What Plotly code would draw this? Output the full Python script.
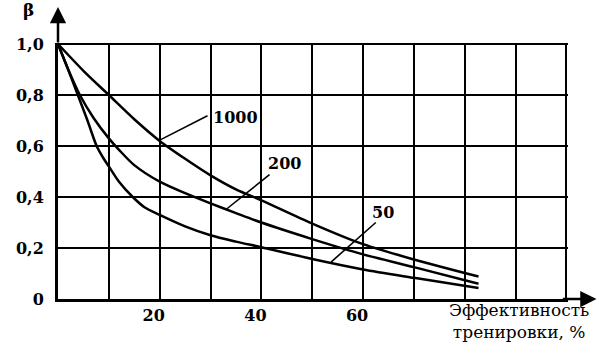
import plotly.graph_objects as go

# ---- data ----
x_1000 = [0, 5, 10, 15, 20, 25, 30, 35, 40, 50, 60, 70, 82.7]
y_1000 = [1.0, 0.895, 0.80, 0.705, 0.62, 0.55, 0.485, 0.43, 0.387, 0.296, 0.215, 0.155, 0.088]

x_200 = [0, 2, 4.3, 7, 10, 12, 15, 20, 25, 30, 35, 40, 50, 60, 70, 82.7]
y_200 = [1.0, 0.9, 0.80, 0.71, 0.63, 0.585, 0.525, 0.46, 0.415, 0.375, 0.337, 0.30, 0.235, 0.175, 0.125, 0.06]

x_50 = [0, 2, 3.9, 5.8, 7.6, 9, 10, 12, 14.7, 17, 20, 25, 30, 35, 40, 50, 60, 70, 82.7]
y_50 = [1.0, 0.9, 0.80, 0.70, 0.60, 0.55, 0.52, 0.46, 0.40, 0.36, 0.33, 0.285, 0.25, 0.225, 0.203, 0.157, 0.116, 0.083, 0.043]

series = [("1000", x_1000, y_1000), ("200", x_200, y_200), ("50", x_50, y_50)]

# curve labels: text position and leader line (from -> to)
label_text = ["1000", "200", "50"]
label_pos = [(34.9, 0.711), (44.5, 0.531), (63.9, 0.34)]
leader_from = [(29.4, 0.719), (41.6, 0.488), (62.5, 0.30)]
leader_to = [(20.2, 0.625), (33.1, 0.352), (53.7, 0.145)]

x_grid = [10, 20, 30, 40, 50, 60, 70, 80, 90, 100]
x_ticktext = ["", "20", "", "40", "", "60", "", "", "", ""]
y_grid = [0, 0.2, 0.4, 0.6, 0.8, 1.0]
y_ticktext = ["0", "0,2", "0,4", "0,6", "0,8", "1,0"]

x_title = ["Эффективность", "тренировки, %"]
y_title = "β"

FONT = "DejaVu Serif"

fig = go.Figure()
for name, xs, ys in series:
    fig.add_trace(go.Scatter(x=xs, y=ys, mode="lines", name=name,
                             line=dict(color="black", width=2.5, shape="spline", smoothing=0.8),
                             showlegend=False, hoverinfo="skip"))

for t, (tx, ty), (fx, fy), (ex, ey) in zip(label_text, label_pos, leader_from, leader_to):
    fig.add_shape(type="line", x0=fx, y0=fy, x1=ex, y1=ey, xref="x", yref="y",
                  line=dict(color="black", width=1.6))
    fig.add_annotation(x=tx, y=ty, text=t, showarrow=False, xref="x", yref="y",
                       font=dict(family=FONT, size=16, color="black", weight="bold"))

# axis arrows
fig.add_annotation(x=105.9, y=0, ax=99, ay=0, xref="x", yref="y", axref="x", ayref="y",
                   text="", showarrow=True, arrowhead=2, arrowsize=1.3, arrowwidth=2.5,
                   arrowcolor="black")
fig.add_annotation(x=0, y=1.145, ax=0, ay=1.0, xref="x", yref="y", axref="x", ayref="y",
                   text="", showarrow=True, arrowhead=2, arrowsize=1.3, arrowwidth=2.5,
                   arrowcolor="black")

# axis titles (paper coordinates)
fig.add_annotation(x=-0.057, y=1.129, text=y_title, showarrow=False, xref="paper", yref="paper",
                   xanchor="center", yanchor="middle",
                   font=dict(family=FONT, size=17, color="black", weight="bold"))
fig.add_annotation(x=0.904, y=-0.086, text="<br>".join(x_title), showarrow=False,
                   xref="paper", yref="paper", xanchor="center", yanchor="middle", align="center",
                   font=dict(family=FONT, size=17, color="black"))

fig.update_xaxes(range=[0, 100.3], tickmode="array", tickvals=x_grid, ticktext=x_ticktext,
                 showgrid=True, gridcolor="black", gridwidth=2, zeroline=False,
                 showline=True, linecolor="black", linewidth=3, ticks="",
                 ticklabelshift=-6, ticklabelstandoff=0,
                 tickfont=dict(family=FONT, size=16, color="black", weight="bold"))
fig.update_yaxes(range=[0, 1.004], tickmode="array", tickvals=y_grid, ticktext=y_ticktext,
                 showgrid=True, gridcolor="black", gridwidth=2, zeroline=False,
                 showline=True, linecolor="black", linewidth=3, ticks="",
                 ticklabelstandoff=8,
                 tickfont=dict(family=FONT, size=16, color="black", weight="bold"))

fig.update_layout(width=613, height=346, margin=dict(l=58, r=45, t=43, b=47),
                  plot_bgcolor="white", paper_bgcolor="white")

fig.write_html("out.html")
